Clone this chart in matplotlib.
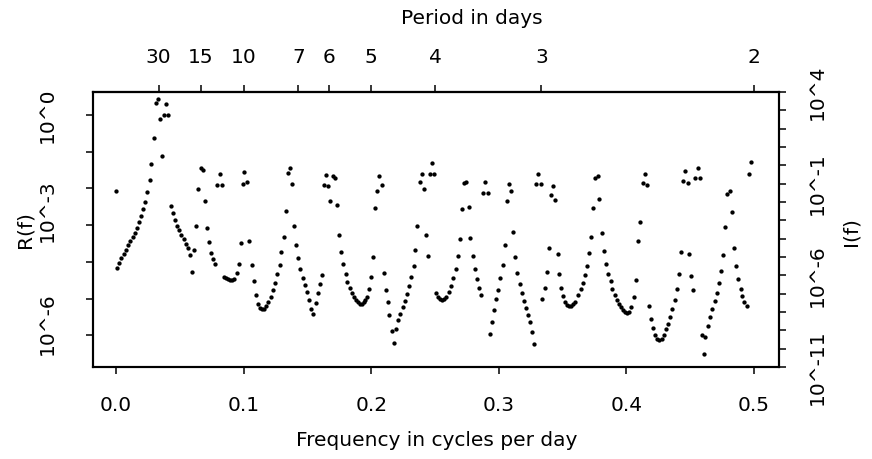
import numpy as np
import matplotlib
matplotlib.use("Agg")
from matplotlib import pyplot as plt
from matplotlib.ticker import NullLocator

plt.rcParams['font.family'] = ['DejaVu Sans']

### data ###

# frequency in cycles per day
freq = [
    0.0000, 0.0008, 0.0026, 0.0042, 0.0060, 0.0078, 0.0094, 0.0112, 0.0131, 0.0149,
    0.0165, 0.0178, 0.0196, 0.0214, 0.0230, 0.0245, 0.0264, 0.0277, 0.0295, 0.0313,
    0.0329, 0.0345, 0.0361, 0.0379, 0.0394, 0.0410, 0.0429, 0.0444, 0.0460, 0.0478,
    0.0494, 0.0512, 0.0531, 0.0546, 0.0562, 0.0580, 0.0596, 0.0611, 0.0629, 0.0645,
    0.0664, 0.0679, 0.0695, 0.0711, 0.0731, 0.0745, 0.0760, 0.0776, 0.0794, 0.0815,
    0.0831, 0.0846, 0.0862, 0.0878, 0.0893, 0.0909, 0.0925, 0.0946, 0.0962, 0.0977,
    0.0993, 0.1006, 0.1027, 0.1045, 0.1063, 0.1079, 0.1097, 0.1113, 0.1129, 0.1144,
    0.1160, 0.1178, 0.1194, 0.1212, 0.1230, 0.1248, 0.1262, 0.1283, 0.1293, 0.1314,
    0.1332, 0.1348, 0.1364, 0.1379, 0.1395, 0.1413, 0.1429, 0.1444, 0.1463, 0.1479,
    0.1495, 0.1510, 0.1528, 0.1544, 0.1565, 0.1581, 0.1596, 0.1614, 0.1630, 0.1648,
    0.1664, 0.1679, 0.1698, 0.1714, 0.1734, 0.1748, 0.1766, 0.1779, 0.1800, 0.1813,
    0.1832, 0.1847, 0.1863, 0.1879, 0.1894, 0.1910, 0.1926, 0.1941, 0.1954, 0.1967,
    0.1983, 0.2001, 0.2016, 0.2030, 0.2045, 0.2064, 0.2082, 0.2098, 0.2114, 0.2129,
    0.2142, 0.2163, 0.2179, 0.2197, 0.2212, 0.2228, 0.2247, 0.2263, 0.2281, 0.2296,
    0.2310, 0.2333, 0.2346, 0.2361, 0.2382, 0.2398, 0.2414, 0.2429, 0.2445, 0.2461,
    0.2479, 0.2495, 0.2510, 0.2526, 0.2542, 0.2557, 0.2573, 0.2589, 0.2607, 0.2628,
    0.2643, 0.2662, 0.2678, 0.2694, 0.2712, 0.2727, 0.2745, 0.2764, 0.2777, 0.2795,
    0.2813, 0.2829, 0.2845, 0.2861, 0.2879, 0.2894, 0.2913, 0.2929, 0.2944, 0.2960,
    0.2976, 0.2996, 0.3009, 0.3031, 0.3046, 0.3062, 0.3080, 0.3093, 0.3111, 0.3127,
    0.3145, 0.3164, 0.3179, 0.3195, 0.3211, 0.3226, 0.3242, 0.3260, 0.3276, 0.3294,
    0.3310, 0.3328, 0.3341, 0.3360, 0.3375, 0.3391, 0.3411, 0.3422, 0.3443, 0.3462,
    0.3474, 0.3487, 0.3505, 0.3521, 0.3537, 0.3553, 0.3568, 0.3584, 0.3600, 0.3621,
    0.3642, 0.3658, 0.3676, 0.3691, 0.3707, 0.3723, 0.3738, 0.3756, 0.3775, 0.3788,
    0.3809, 0.3824, 0.3840, 0.3858, 0.3877, 0.3890, 0.3908, 0.3924, 0.3940, 0.3958,
    0.3973, 0.3989, 0.4005, 0.4020, 0.4038, 0.4060, 0.4075, 0.4093, 0.4109, 0.4128,
    0.4143, 0.4159, 0.4173, 0.4193, 0.4208, 0.4226, 0.4242, 0.4258, 0.4277, 0.4292,
    0.4308, 0.4326, 0.4342, 0.4360, 0.4379, 0.4394, 0.4410, 0.4426, 0.4444, 0.4462,
    0.4480, 0.4493, 0.4506, 0.4522, 0.4540, 0.4559, 0.4574, 0.4590, 0.4608, 0.4618,
    0.4637, 0.4658, 0.4673, 0.4692, 0.4708, 0.4723, 0.4744, 0.4757, 0.4773, 0.4791,
    0.4810, 0.4825, 0.4843, 0.4856, 0.4875, 0.4896, 0.4908, 0.4924, 0.4943, 0.4961,
    0.4974,
]

# log10 of R(f), left axis units
log10_R = [
    -2.07, -4.17, -4.02, -3.90, -3.79, -3.67, -3.55, -3.43, -3.32, -3.21,
    -3.07, -2.92, -2.75, -2.56, -2.37, -2.09, -1.78, -1.34, -0.63, 0.32,
    0.43, -0.10, -1.11, 0.00, 0.29, 0.00, -2.49, -2.68, -2.86, -3.02,
    -3.14, -3.28, -3.39, -3.51, -3.63, -3.81, -4.29, -3.69, -3.02, -2.02,
    -1.43, -1.51, -2.34, -3.07, -3.47, -3.75, -3.93, -4.07, -1.90, -1.62,
    -1.90, -4.41, -4.44, -4.48, -4.50, -4.50, -4.47, -4.31, -4.05, -3.50,
    -1.89, -1.55, -1.82, -3.43, -4.08, -4.53, -4.90, -5.16, -5.27, -5.29,
    -5.28, -5.21, -5.10, -4.95, -4.77, -4.59, -4.34, -4.09, -3.74, -3.32,
    -2.62, -1.57, -1.43, -1.88, -3.02, -3.54, -3.90, -4.19, -4.43, -4.62,
    -4.81, -5.03, -5.28, -5.42, -5.13, -4.84, -4.61, -4.36, -1.91, -1.63,
    -1.93, -2.34, -1.67, -1.71, -2.45, -3.26, -3.72, -4.06, -4.32, -4.54,
    -4.71, -4.85, -4.96, -5.04, -5.10, -5.15, -5.16, -5.10, -5.04, -4.95,
    -4.73, -4.41, -3.88, -2.53, -2.07, -1.65, -1.90, -4.31, -4.76, -5.10,
    -5.46, -5.88, -6.22, -5.82, -5.58, -5.41, -5.23, -5.06, -4.87, -4.67,
    -4.41, -4.10, -3.68, -3.02, -1.82, -1.62, -2.02, -3.27, -3.83, -1.60,
    -1.31, -1.60, -4.84, -4.95, -5.01, -5.03, -5.01, -4.95, -4.81, -4.66,
    -4.45, -4.20, -3.85, -3.38, -2.56, -1.84, -1.83, -2.51, -3.36, -3.85,
    -4.20, -4.48, -4.71, -4.90, -2.12, -1.82, -2.12, -5.97, -5.63, -5.31,
    -5.01, -4.76, -4.45, -4.08, -3.54, -2.34, -1.89, -2.07, -3.18, -3.88,
    -4.31, -4.61, -4.86, -5.08, -5.27, -5.46, -5.65, -5.91, -6.25, -1.89,
    -1.60, -1.89, -5.02, -4.70, -4.27, -3.62, -2.18, -1.94, -2.32, -3.79,
    -4.34, -4.71, -4.93, -5.10, -5.18, -5.20, -5.19, -5.15, -5.09, -4.91,
    -4.74, -4.59, -4.36, -4.11, -3.77, -3.31, -2.53, -1.72, -1.67, -2.29,
    -3.21, -3.70, -4.05, -4.33, -4.53, -4.74, -4.90, -5.03, -5.16, -5.24,
    -5.31, -5.37, -5.40, -5.37, -5.23, -4.96, -4.49, -3.43, -2.92, -1.85,
    -1.60, -1.90, -5.21, -5.55, -5.80, -5.99, -6.10, -6.13, -6.10, -5.99,
    -5.84, -5.69, -5.50, -5.29, -5.03, -4.74, -4.34, -3.72, -1.81, -1.53,
    -1.84, -3.79, -4.38, -4.77, -1.72, -1.44, -1.72, -5.98, -6.52, -6.05,
    -5.74, -5.49, -5.29, -5.08, -4.85, -4.59, -4.25, -3.81, -3.05, -2.16,
    -2.08, -2.63, -3.62, -4.11, -4.48, -4.73, -4.93, -5.09, -5.20, -1.60,
    -1.29,
]

# axes
freq_ticks = [0.0, 0.1, 0.2, 0.3, 0.4, 0.5]
freq_labels = ["0.0", "0.1", "0.2", "0.3", "0.4", "0.5"]
periods = [30, 15, 10, 7, 6, 5, 4, 3, 2]
R_decades = [0, -1, -2, -3, -4, -5, -6]
R_label_pos = [0.0, -2.61, -5.68]
R_labels = ["10^0", "10^-3", "10^-6"]
I_decades = list(range(-11, 5))
I_labels = {4: "10^4", -1: "10^-1", -6: "10^-6", -11: "10^-11"}

FS = 14.5

### plot ###

fig = plt.figure(figsize=(8.72, 4.59), dpi=100)
ax = fig.add_axes([0.1067, 0.2004, 0.7867, 0.5991])

R = 10.0 ** np.array(log10_R)
ax.plot(freq, R, 'o', ms=3.1, mew=0, color='black')

ax.set_yscale('log')
ax.set_ylim(10 ** -6.866, 10 ** 0.627)
ax.set_xlim(-0.018, 0.5196)

# bottom axis
ax.set_xticks(freq_ticks, labels=freq_labels)
ax.tick_params(axis='x', length=5, width=1.1, pad=16, labelsize=FS)

# left axis : ticks at decades, labels where they sit in the figure
ax.yaxis.remove_overlapping_locs = False
ax.set_yticks([10.0 ** d for d in R_decades], labels=[''] * len(R_decades))
ax.set_yticks([10.0 ** p for p in R_label_pos], labels=R_labels, minor=True)
ax.tick_params(axis='y', which='major', length=5, width=1.1)
ax.tick_params(axis='y', which='minor', length=0, pad=26, labelsize=FS)
for t in ax.get_yticklabels(minor=True):
    t.set_rotation(90)
    t.set_va('center')

# right axis I(f)
ax2 = ax.twinx()
ax2.set_yscale('log')
ax2.set_ylim(1e-11, 1e4)
ax2.set_yticks([10.0 ** d for d in I_decades],
               labels=[I_labels.get(d, '') for d in I_decades])
ax2.yaxis.set_minor_locator(NullLocator())
ax2.tick_params(axis='y', length=5, width=1.1, pad=16, labelsize=FS)
for t in ax2.get_yticklabels():
    t.set_rotation(90)
    t.set_va('center')

# top axis : period in days
top = ax.secondary_xaxis('top')
top.set_xticks([1.0 / p for p in periods], labels=[str(p) for p in periods])
top.tick_params(length=5, width=1.1, pad=13, labelsize=FS)

for a in (ax, ax2):
    for s in a.spines.values():
        s.set_linewidth(1.5)
top.spines['top'].set_linewidth(1.5)

fig.text(472 / 872, 1 - 18 / 459, "Period in days", ha='center', va='center', fontsize=FS)
fig.text(437 / 872, 1 - 441 / 459, "Frequency in cycles per day", ha='center', va='center', fontsize=FS)
fig.text(25 / 872, 1 - 230 / 459, "R(f)", rotation=90, ha='center', va='center', fontsize=FS)
fig.text(851 / 872, 1 - 232 / 459, "I(f)", rotation=90, ha='center', va='center', fontsize=FS)

plt.savefig("out.png", dpi=100)
